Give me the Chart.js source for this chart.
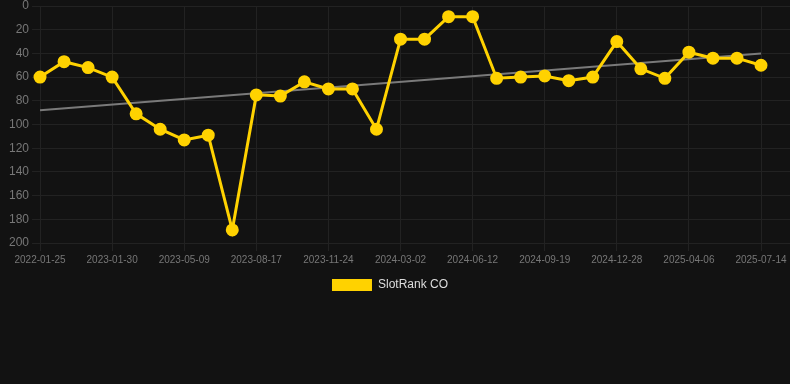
<!DOCTYPE html>
<html>
<head>
<meta charset="utf-8">
<script src="https://cdn.jsdelivr.net/npm/chart.js@4/dist/chart.umd.min.js"></script>
<style>
  html, body { margin: 0; padding: 0; background: #121212; }
  #wrap { width: 790px; height: 301px; position: relative; }
</style>
</head>
<body>
<div id="wrap"><canvas id="c"></canvas></div>
<script>
const labels = [
  "2022-01-25","2022-05-10","2022-09-20","2023-01-30","2023-03-02","2023-04-05",
  "2023-05-09","2023-06-11","2023-07-14","2023-08-17","2023-09-18","2023-10-21",
  "2023-11-24","2023-12-26","2024-01-29","2024-03-02","2024-04-05","2024-05-09",
  "2024-06-12","2024-07-14","2024-08-16","2024-09-19","2024-10-21","2024-11-24",
  "2024-12-28","2025-01-29","2025-03-03","2025-04-06","2025-05-09","2025-06-11",
  "2025-07-14"
];
const rankValues = [
  60, 47, 52, 60, 91, 104, 113, 109, 189, 75, 76, 64,
  70, 70, 104, 28, 28, 9, 9, 61, 60, 59, 63, 60,
  30, 53, 61, 39, 44, 44, 50
];
const trendStart = 88;
const trendEnd = 40;
const yTicks = [0, 20, 40, 60, 80, 100, 120, 140, 160, 180, 200];

const trendValues = labels.map((_, i) =>
  i === 0 ? trendStart : (i === labels.length - 1 ? trendEnd : null));

const FONT = 'Arial, "Liberation Sans", sans-serif';
const GRID = '#222222';

const legendShift = {
  id: 'legendShift',
  afterLayout(chart) {
    const lg = chart.legend;
    if (lg) { lg.left -= 8; lg.right -= 8; }
  }
};

new Chart(document.getElementById('c'), {
  type: 'line',
  plugins: [legendShift],
  data: {
    labels: labels,
    datasets: [
      {
        label: 'SlotRank CO',
        data: rankValues,
        borderColor: '#FFD200',
        backgroundColor: '#FFD200',
        borderWidth: 3,
        pointRadius: 5,
        pointBackgroundColor: '#FFD200',
        pointBorderColor: '#FFD200',
        tension: 0,
        order: 1
      },
      {
        label: 'trend',
        data: trendValues,
        borderColor: '#7a7a7a',
        borderWidth: 2,
        pointRadius: 0,
        spanGaps: true,
        fill: false,
        order: 2
      }
    ]
  },
  options: {
    responsive: true,
    maintainAspectRatio: false,
    animation: false,
    layout: { autoPadding: false, padding: { left: 6, right: 0, top: 0, bottom: 0 } },
    plugins: {
      legend: {
        position: 'bottom',
        labels: {
          color: '#dddddd',
          font: { family: FONT, size: 12 },
          boxWidth: 40,
          boxHeight: 12,
          generateLabels: (chart) =>
            Chart.defaults.plugins.legend.labels.generateLabels(chart)
              .filter(l => l.text !== 'trend')
              .map(l => Object.assign(l, { lineWidth: 0 }))
        }
      },
      tooltip: { enabled: false }
    },
    scales: {
      x: {
        grid: { color: GRID, drawTicks: true, tickLength: 8 },
        border: { color: GRID },
        ticks: {
          color: '#777777',
          font: { family: FONT, size: 10 },
          maxRotation: 0,
          autoSkip: true,
          maxTicksLimit: 11
        }
      },
      y: {
        reverse: true,
        min: 0,
        max: 200,
        afterBuildTicks: (axis) => { axis.ticks = yTicks.map(v => ({ value: v })); },
        afterFit: (axis) => { axis.paddingTop = 6; },
        grid: { color: GRID, drawTicks: true, tickLength: 8 },
        border: { color: GRID },
        ticks: {
          color: '#777777',
          padding: 3,
          font: { family: FONT, size: 12 }
        }
      },
      yRight: {
        position: 'right',
        reverse: true,
        min: 0,
        max: 200,
        afterBuildTicks: (axis) => { axis.ticks = yTicks.map(v => ({ value: v })); },
        afterFit: (axis) => { axis.paddingTop = 6; },
        grid: { color: GRID, drawOnChartArea: false, drawTicks: true, tickLength: 29 },
        border: { display: false },
        ticks: { display: false, padding: 0 }
      }
    }
  }
});
</script>
</body>
</html>
